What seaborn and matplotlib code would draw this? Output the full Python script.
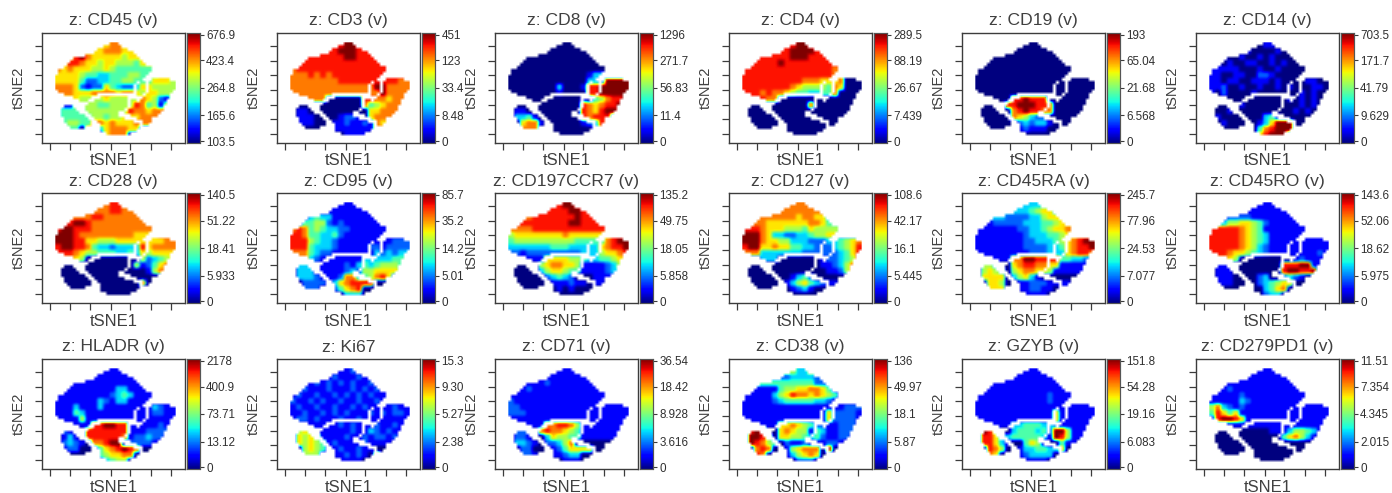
import numpy as np
import pandas as pd
import seaborn as sns
import matplotlib
matplotlib.use("Agg")
import matplotlib.pyplot as plt

TITLES = ["z: CD45 (v)", "z: CD3 (v)", "z: CD8 (v)", "z: CD4 (v)", "z: CD19 (v)", "z: CD14 (v)",
          "z: CD28 (v)", "z: CD95 (v)", "z: CD197CCR7 (v)", "z: CD127 (v)", "z: CD45RA (v)", "z: CD45RO (v)",
          "z: HLADR (v)", "z: Ki67", "z: CD71 (v)", "z: CD38 (v)", "z: GZYB (v)", "z: CD279PD1 (v)"]
CBAR_LABELS = [
    ["676.9", "423.4", "264.8", "165.6", "103.5"], ["451", "123", "33.4", "8.48", "0"],
    ["1296", "271.7", "56.83", "11.4", "0"], ["289.5", "88.19", "26.67", "7.439", "0"],
    ["193", "65.04", "21.68", "6.568", "0"], ["703.5", "171.7", "41.79", "9.629", "0"],
    ["140.5", "51.22", "18.41", "5.933", "0"], ["85.7", "35.2", "14.2", "5.01", "0"],
    ["135.2", "49.75", "18.05", "5.858", "0"], ["108.6", "42.17", "16.1", "5.445", "0"],
    ["245.7", "77.96", "24.53", "7.077", "0"], ["143.6", "52.06", "18.62", "5.975", "0"],
    ["2178", "400.9", "73.71", "13.12", "0"], ["15.3", "9.30", "5.27", "2.38", "0"],
    ["36.54", "18.42", "8.928", "3.616", "0"], ["136", "49.97", "18.1", "5.87", "0"],
    ["151.8", "54.28", "19.16", "6.083", "0"], ["11.51", "7.354", "4.345", "2.015", "0"],
]

# Which cells of the tSNE map hold events (start, end columns per row)
OCCUPIED = [
    [(18, 20)], [(16, 21)], [(14, 23)], [(13, 25)], [(10, 26)], [(6, 27)], [(5, 28)], [(4, 29)],
    [(3, 31)], [(1, 31)], [(1, 30)], [(0, 29)], [(0, 28), (32, 37)], [(0, 26), (28, 29), (31, 39)],
    [(0, 25), (27, 29), (31, 39)], [(0, 25), (27, 29), (31, 39)], [(1, 25), (27, 29), (31, 38)],
    [(3, 13), (27, 28), (30, 37)], [(6, 11), (15, 23), (29, 37)],
    [(8, 10), (13, 23), (25, 26), (28, 36)], [(11, 23), (25, 36)],
    [(3, 5), (10, 23), (25, 35)], [(2, 6), (10, 22), (24, 35)], [(2, 7), (11, 20), (23, 34)],
    [(2, 9), (12, 20), (25, 33)], [(3, 10), (13, 22), (27, 31)], [(3, 11), (14, 25), (29, 31)],
    [(4, 11), (15, 27), (29, 30)], [(5, 9), (15, 27)], [(15, 26)], [(17, 24)],
]

# Colour level 0-9 read per block of the map, one list per marker
CD45 = ["66666666677666666666", "66666666777666666666", "66689766666566666666", "66887665665554666666",
        "76766655654444444666", "66665443344455445666", "66664223344554446665", "77762122643223665555",
        "77766677776776566555", "66665555655555765215", "61155554455558745156", "34444555555587767777",
        "34444455455666777777", "44554477676667777777", "44440773677766000000", "00000000677700000000"]
CD3 = ["88888888899888888888", "88888888999888888888", "88888888899888888888", "88888888888888888888",
       "78888888888888888888", "77787878888888888888", "77777777888888888877", "77777777777777997777",
       "77777777777777797777", "77777700000088776777", "00000000000074567777", "01100000000006677777",
       "01110000122106777777", "01110001121121766666", "00000001111111777777", "00000000011110000000"]
CD8 = ["00000000000000000000", "00000000000000000000", "00000000000000000000", "00000000000000000000",
       "00000000000000000000", "00000000000001330000", "00000000000003329999", "00000000300018899999",
       "00000000100008899999", "00000000000010457889", "00000000000087678899", "01100000000087689980",
       "03341000000087888000", "00677100000012387700", "00777000000000278000", "00000000000000000000"]
CD4 = ["88888888899888888888", "88888888999988888888", "88888888999888888888", "88888898888888888888",
       "88888888888888877888", "88888888888888876000", "88888888887776667000", "88888888765555476000",
       "88878776544334470000", "88887700000000000000", "00000000000700000000", "00000000000000000000",
       "00000000000000000000", "00000000000000000000", "00000000000000000000", "00000000000000000000"]
CD19 = ["00000000000000000000", "00000000000000000000", "00000000000000000000", "00000000000000000000",
        "00000000000000000000", "00000000000000000000", "00000000000000000000", "00000000000000000000",
        "00000000000000000000", "00000088988800000000", "00000889998870000000", "00000078988770000000",
        "00000076532200000000", "00000002323310000000", "00000001211100000000", "00000000000000000000"]
CD14 = ["00000000011000000000", "00001010000100000000", "00100100101000000000", "01010011001010000000",
        "11111000100100000000", "11001100221000000000", "11011001110100001100", "11200100100101000110",
        "10200001000000010100", "00000000000001010100", "00000100000000010100", "00010000000000101000",
        "01000000034100000000", "00100000136999000000", "00000000478999000000", "00000000689990000000"]
CD28 = ["77777777788777777777", "77777777788777777777", "77777788777777777777", "78899877777777777777",
        "89988877777777777777", "99987777777776666777", "99988665556666666677", "89988743323333867777",
        "88876554443343656666", "77765000000000523456", "00000000000005124677", "00000000000000015777",
        "00000000000000000047", "00000000000000700000", "00000000000000000000", "00000000000000000000"]
CD95 = ["11111111111111111111", "11111111111111111111", "11134331111111111111", "11445521211111111111",
        "78745433221111111111", "88744334211111111111", "88854332111111111222", "88843332111112212222",
        "77743221111111323233", "77732111111133333444", "03331111121343455543", "03331111123255666650",
        "03332111277345786000", "00222213678888000000", "00222002467800000000", "00000000033300000000"]
CCR7 = ["88888888899888888888", "88888888889988888888", "88778888888988888888", "88888888889988888888",
        "77778888888888888888", "56666666676666666888", "45555555555444447899", "33333334443333367889",
        "22122222222233356678", "11111166665543344566", "00000567766511112355", "00000356654411112333",
        "00000023432000111100", "00000001112110110000", "00000000101000000000", "00000000000000000000"]
CD127 = ["77777777777777777777", "77777777777777777777", "77777777767766322222", "77776666666776444222",
         "88876665554655555222", "99976332233455662222", "99976655333222334567", "89966766443322234568",
         "77733333332222223468", "00033300000001223458", "00000000000001123570", "00000000000000112570",
         "00000000134200000000", "00000001356432110000", "00000000123100000000", "00000000000000000000"]
CD45RA = ["33333333333444333333", "33333333345663333333", "33333222233566633333", "11122222333445666666",
          "11111112233456677666", "11111111233344566777", "11111111223334567899", "11111111222233467889",
          "11111111122233367887", "11111177998888443322", "05530067887766111112", "05654056776651111111",
          "06666035631000000000", "00665001122211110000", "00666001122110110000", "00000000111100000000"]
CD45RO = ["11111111111111111111", "11111111111111111111", "11122221111111111111", "33355665421111111111",
          "88888765411111111111", "88888765431111111111", "88888765431111111111", "88888765321111111111",
          "88876654321111111121", "77765000000000121111", "01110000000088899110", "01110000000089988900",
          "01110000230023210000", "01110000234566000000", "00000000034670000000", "00000000023300000000"]
HLADR = ["11111111111111111111", "11111111111111111111", "11111111111111111111", "11111111113311111111",
         "11111111123431111111", "11111113213311111111", "11131113111111113211", "11143111111111112211",
         "11115111111111111111", "11111188998811111211", "02110888888811122221", "01310888888712232211",
         "02321077899022221000", "01220004678987000000", "00000004566770000000", "00000000345500000000"]
KI67 = ["11111111112111111111", "11121112111211111111", "11112121212112111111", "11211121112121211111",
        "12112112121212111111", "21121211211211212111", "12112112112121111211", "11211212121112121221",
        "12212111211211111111", "11111111212111211211", "05651111112113212111", "06565111121121221211",
        "06565412111121111000", "00565411211211000000", "00555001121210800000", "00000000111100000000"]
CD71 = ["11111111111111111111", "11111111111111111111", "11111121111111111111", "11121111111111111111",
        "11111111111111111111", "21111111111111111111", "22111111111111111111", "22211111111111111111",
        "11111111111111111111", "11111177887511111111", "02220787765411111111", "02210036554411111111",
        "03321022357000000000", "00220001246666000000", "00221001123300000000", "00000000011100000000"]
CD38 = ["55555555533555555555", "22222222333322222222", "44444444444422222222", "11111145566776411111",
        "11111356877676541111", "11111234444433211111", "11111111111111111222", "11111111111111622221",
        "11111111111111622221", "11111166765422112221", "08980067655143112221", "09985066554342112211",
        "09875402112111221000", "00787001567770900000", "00870001356760000000", "00000000022200000000"]
GZYB = ["11111111111111111111", "11111111111111111111", "11111111111111111111", "11111111111111111111",
        "11111111111121111111", "11111111111121111111", "11111111111111111111", "11111111111116111111",
        "11111111111116111111", "11111133444332111111", "09850034443429951111", "08863344444319851111",
        "08863100465100411000", "00875001334433600000", "00760001233330000000", "00000000111100000000"]
PD1 = ["11111111111111111111", "11111111111111111111", "11111111111111111111", "11121111111111111111",
       "11111211111111111111", "11111321111111111111", "57321211111111111111", "48646111111111111111",
       "18998611111111111111", "11111111111111111111", "00000000001113554311", "00000000000046753100",
       "00000000000000000000", "00000000000000000000", "00000000000000000000", "00000000000000000000"]
PANELS = [CD45, CD3, CD8, CD4, CD19, CD14, CD28, CD95, CCR7, CD127, CD45RA, CD45RO,
          HLADR, KI67, CD71, CD38, GZYB, PD1]

sns.set_theme(style="white")
plt.rcParams["font.family"] = ["Liberation Sans", "DejaVu Sans"]

W, H = 1392, 493
fig = plt.figure(figsize=(W / 100, H / 100), dpi=100, facecolor="white")

box_left = [42, 277, 495, 729, 962, 1196]
box_top = [33, 193, 359]
box_w, box_h = 143, 110
n_rows, n_cols = len(OCCUPIED), 40
mask = np.ones((n_rows, n_cols), dtype=bool)
for r, spans in enumerate(OCCUPIED):
    for a, b in spans:
        mask[r, a:b + 1] = False

x_ticks_px = [7.7, 28.3, 48, 69, 88.3, 109.3, 129.3]
y_ticks_px = [12.7, 28, 42.3, 56.7, 71.7, 86, 100.7]
off_x, off_y = 12.7 / 3, 3.0
text_col = "#404040"

# soft-edged white cover over the empty parts of the map
pad = np.pad(mask, 1, constant_values=True)
cover = np.ones(pad.shape + (4,))
cover[..., 3] = pad.astype(float)

for i, (rows, title, labs) in enumerate(zip(PANELS, TITLES, CBAR_LABELS)):
    row, col = divmod(i, 6)
    l, t = box_left[col], box_top[row]
    ax = fig.add_axes([l / W, 1 - (t + box_h) / H, box_w / W, box_h / H])
    cax = fig.add_axes([(l + 145) / W, 1 - (t + box_h) / H, 13 / W, box_h / H])
    coarse = np.array([[int(ch) for ch in rw] for rw in rows], dtype=float)
    vals = np.kron(coarse, np.ones((2, 2)))
    df = pd.DataFrame(vals[:n_rows, :n_cols])
    sns.heatmap(df, mask=mask, cmap="jet", vmin=0, vmax=9, ax=ax, cbar_ax=cax,
                xticklabels=False, yticklabels=False, rasterized=True)
    # same values and colour scale, shown through smooth display filters
    ax.imshow(vals, cmap="jet", vmin=0, vmax=9, extent=(0, 40, 32, 0), aspect="auto",
              interpolation="bilinear", zorder=3)
    ax.imshow(coarse, cmap="jet", vmin=0, vmax=9, extent=(0, 40, 32, 0), aspect="auto",
              interpolation="bilinear", zorder=3.5, alpha=0.6)
    ax.imshow(cover, extent=(-1, 41, 32, -1), aspect="auto", interpolation="bilinear", zorder=4)
    ax.set_xlim(-off_x, box_w / 3 - off_x)
    ax.set_ylim(box_h / 3 - off_y, -off_y)
    for s in ax.spines.values():
        s.set_visible(True)
        s.set_color("#3c3c3c")
        s.set_linewidth(1.0)
        s.set_zorder(6)
    ax.set_xticks([p / 3 - off_x for p in x_ticks_px])
    ax.set_yticks([p / 3 - off_y for p in y_ticks_px])
    ax.set_xticklabels([])
    ax.set_yticklabels([])
    ax.tick_params(axis="both", which="major", bottom=True, left=True, length=5.2, width=0.9,
                   color="#3c3c3c")
    ax.text(0.5, 1 + 12 / box_h, title, transform=ax.transAxes, ha="center", va="center",
            fontsize=12.6, color=text_col)
    ax.text(0.5, -18 / box_h, "tSNE1", transform=ax.transAxes, ha="center", va="center",
            fontsize=12, color=text_col)
    ax.text(-23 / box_w, 0.5, "tSNE2", transform=ax.transAxes, ha="center", va="center",
            rotation=90, fontsize=10.5, color=text_col)

    cax.set_yticks([0.15, 2.25, 4.5, 6.75, 8.85])
    cax.set_yticklabels(labs[::-1], fontsize=8.4, color="#303030")
    cax.tick_params(axis="y", right=True, left=False, length=3, width=0.8, pad=1.5, color="#3c3c3c")
    for s in cax.spines.values():
        s.set_visible(True)
        s.set_color("#555555")
        s.set_linewidth(0.8)

fig.savefig("out.png", dpi=100, facecolor="white")
